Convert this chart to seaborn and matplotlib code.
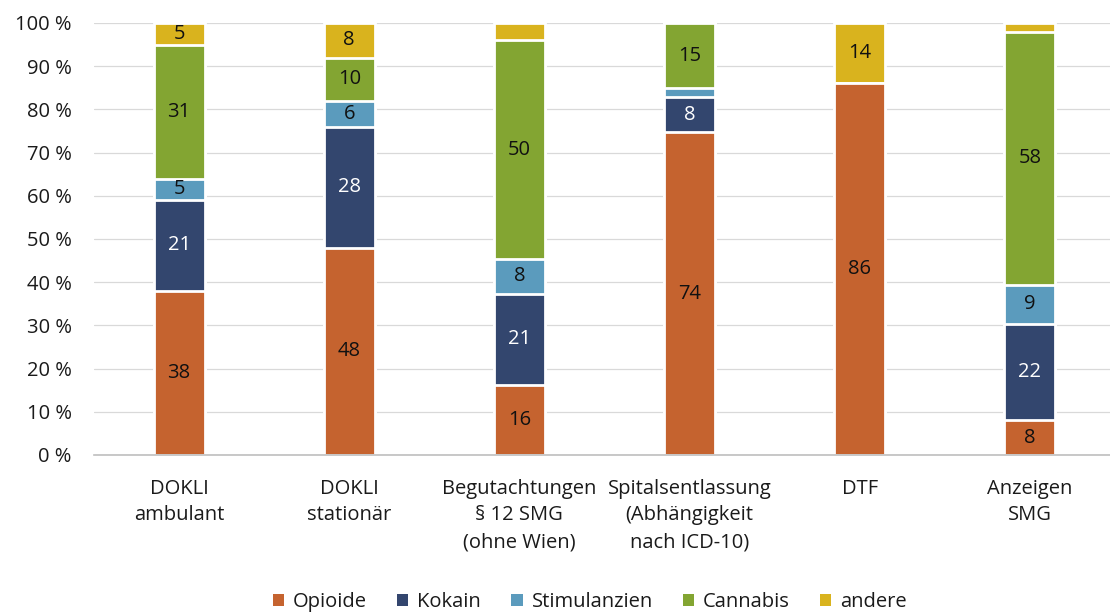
import numpy as np
import pandas as pd
import matplotlib.pyplot as plt
import seaborn as sns
from matplotlib.patches import Patch

categories = ["DOKLI\nambulant", "DOKLI\nstationär", "Begutachtungen\n§ 12 SMG\n(ohne Wien)",
              "Spitalsentlassung\n(Abhängigkeit\nnach ICD-10)", "DTF", "Anzeigen\nSMG"]
series = ["Opioide", "Kokain", "Stimulanzien", "Cannabis", "andere"]

opioide = [38, 48, 16, 74, 86, 8]
kokain = [21, 28, 21, 8, 0, 22]
stimulanzien = [5, 6, 8, 2, 0, 9]
cannabis = [31, 10, 50, 15, 0, 58]
andere = [5, 8, 4, 0, 14, 2]

colors = ["#C5632F", "#33466E", "#5B9BBD", "#83A532", "#D9B31E"]
text_colors = ["#111111", "white", "#111111", "#111111", "#111111"]

sns.set_style("white")
plt.rcParams['font.family'] = ['Open Sans', 'DejaVu Sans']

vals = np.array([opioide, kokain, stimulanzien, cannabis, andere], dtype=float)
share = vals / vals.sum(axis=0) * 100
cum = np.cumsum(share, axis=0)

fig = plt.figure(figsize=(11.1, 6.15), dpi=100)
ax = fig.add_axes([94 / 1110, 160 / 615, 1021 / 1110, 432 / 615])

# layered cumulative bars, tallest first
for i in range(len(series) - 1, -1, -1):
    df = pd.DataFrame({"cat": categories, "val": cum[i]})
    sns.barplot(data=df, x="cat", y="val", color=colors[i], saturation=1,
                width=0.3, edgecolor="white", linewidth=2, ax=ax, zorder=3)

for i in range(len(series)):
    for j in range(len(categories)):
        if vals[i, j] >= 5:
            y = cum[i, j] - share[i, j] / 2
            ax.text(j, y, f"{int(vals[i, j])}", ha="center", va="center",
                    fontsize=14.5, color=text_colors[i], zorder=5)

ax.set_ylim(0, 100)
ax.set_xlim(-0.5, len(categories) - 0.5)
ax.set_yticks(range(0, 101, 10))
ax.set_yticklabels([f"{v} %" for v in range(0, 101, 10)])
ax.yaxis.grid(True, color="#D9D9D9", linewidth=0.9, zorder=0)
ax.set_axisbelow(True)
ax.tick_params(axis="both", length=0, labelsize=14.5, colors="#1A1A1A")
ax.tick_params(axis="y", pad=16)
ax.tick_params(axis="x", pad=17)
for lab in ax.get_xticklabels():
    lab.set_linespacing(1.45)
ax.set_xlabel("")
ax.set_ylabel("")
for s in ["top", "left", "right"]:
    ax.spines[s].set_visible(False)
ax.spines["bottom"].set_color("#BFBFBF")
ax.spines["bottom"].set_linewidth(1.2)
ax.spines["bottom"].set_zorder(4)

handles = [Patch(facecolor=c, edgecolor="none", label=s) for c, s in zip(colors, series)]
fig.legend(handles=handles, loc="center", bbox_to_anchor=(590 / 1110, 1 - 602 / 615), ncol=5,
           frameon=False, fontsize=14.5, handlelength=0.55, handleheight=0.55,
           handletextpad=0.45, columnspacing=1.5, labelcolor="#1A1A1A")

fig.savefig("out.png", dpi=100)
